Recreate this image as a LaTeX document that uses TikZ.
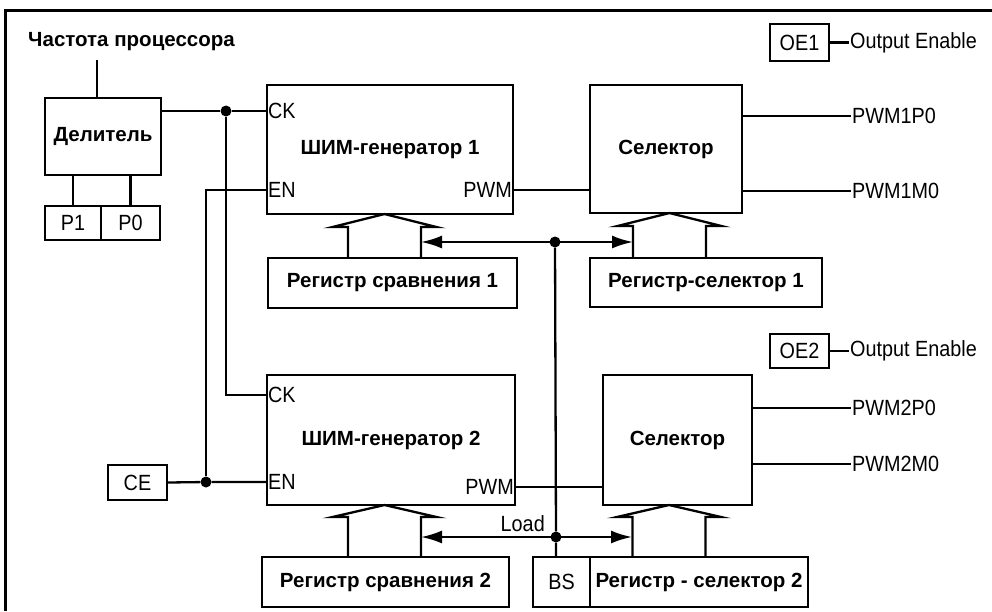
\documentclass[tikz,border=0pt]{standalone}
\usepackage{fontspec}
\newfontfamily\latfont[FakeStretch=0.9]{Liberation Sans}
\newfontfamily\rusfont{Liberation Sans}
\usetikzlibrary{arrows.meta, positioning}

% hollow bus arrow: centre x, apex y, barb y, foot y
\newcommand{\busarrow}[4]{%
\draw[wire] (#1-36.5,#4) -- (#1-36.5,#3) -- (#1-52,#3) -- (#1,#2)
  -- (#1+52,#3) -- (#1+36.5,#3) -- (#1+36.5,#4);
}

\begin{document}
\begin{tikzpicture}[x=1pt, y=-1pt,
  blk/.style={draw, line width=2.3pt, inner sep=0pt},
  wire/.style={line width=2.3pt},
  lat/.style={font=\latfont\fontsize{22}{26}\selectfont, inner sep=1pt},
  rus/.style={font=\rusfont\bfseries\fontsize{20.5}{24}\selectfont},
  jdot/.style={circle, fill, inner sep=0pt, minimum size=11pt},
  bustip/.style={{Latex[length=21pt,width=13pt]}-{Latex[length=21pt,width=13pt]}}
]
\useasboundingbox (0,0) rectangle (992,611);

% frame
\draw[line width=3pt] (992,10) -- (5,10) -- (5,611);

% divider
\node[rus, anchor=west, inner sep=0pt] (freq) at (28,42) {Частота процессора};
\node[blk, rus, minimum width=116pt, minimum height=77pt] (div) at (103,136.5) {Делитель};
\node[blk, lat, minimum width=56pt, minimum height=34pt] (p1) at (73,223) {P1};
\node[blk, lat, minimum width=59pt, minimum height=34pt] (p0) at (130.5,223) {P0};
\coordinate (fin) at (97,60);
\draw[wire] (fin) -- (fin |- div.north);
\draw[wire] (p1.north) -- (p1.north |- div.south);
\draw[wire] (p0.north) -- (p0.north |- div.south);

% generators
\node[blk, rus, minimum width=246pt, minimum height=129pt] (gen1) at (390,149.5) {ШИМ-генератор 1};
\node[blk, rus, minimum width=248pt, minimum height=130pt] (gen2) at (391,440) {ШИМ-генератор 2};
\coordinate (g1ck) at (267,111);
\coordinate (g1en) at (267,190);
\coordinate (g1pwm) at (513,190);
\coordinate (g2ck) at (267,395);
\coordinate (g2en) at (267,482);
\coordinate (g2pwm) at (515,487);
\node[lat, anchor=west] (g1cklbl) at (g1ck) {CK};
\node[lat, anchor=west] (g1enlbl) at (g1en) {EN};
\node[lat, anchor=east] (g1pwmlbl) at (g1pwm) {PWM};
\node[lat, anchor=west] (g2cklbl) at (g2ck) {CK};
\node[lat, anchor=west] (g2enlbl) at (g2en) {EN};
\node[lat, anchor=east] (g2pwmlbl) at (g2pwm) {PWM};

% selectors
\node[blk, rus, minimum width=152pt, minimum height=128pt] (sel1) at (666,149) {Селектор};
\node[blk, rus, minimum width=149pt, minimum height=130pt] (sel2) at (677.5,440) {Селектор};

% registers
\node[blk, rus, minimum width=249pt, minimum height=50pt] (reg1) at (392.5,283) {Регистр сравнения 1};
\node[blk, rus, minimum width=232pt, minimum height=49pt] (rsel1) at (706,282.5) {Регистр-селектор 1};
\node[blk, rus, minimum width=247pt, minimum height=50pt] (reg2) at (385.5,582) {Регистр сравнения 2};
\node[blk, lat, minimum width=57pt, minimum height=50pt] (bs) at (561.5,582) {BS};
\node[blk, rus, minimum width=218pt, minimum height=50pt] (rsel2) at (699,582) {Регистр - селектор 2};

% enables
\node[blk, lat, minimum width=59pt, minimum height=35pt] (ce) at (137.5,482.5) {CE};
\node[blk, lat, minimum width=59pt, minimum height=37pt] (oe1) at (799.5,42.5) {OE1};
\node[blk, lat, minimum width=59pt, minimum height=34pt] (oe2) at (799.5,351) {OE2};
\node[lat, anchor=west] (oe1lbl) at (849,42.5) {Output Enable};
\node[lat, anchor=west] (oe2lbl) at (849,351) {Output Enable};
\draw[wire] (oe1) -- (oe1lbl);
\draw[wire] (oe2) -- (oe2lbl);

% outputs
\node[lat, anchor=west] (o1p) at (851,116) {PWM1P0};
\node[lat, anchor=west] (o1m) at (851,191) {PWM1M0};
\node[lat, anchor=west] (o2p) at (851,408) {PWM2P0};
\node[lat, anchor=west] (o2m) at (851,464) {PWM2M0};
\foreach \o/\s in {o1p/sel1, o1m/sel1, o2p/sel2, o2m/sel2}
  \draw[wire] (\o.west -| \s.east) -- (\o.west);

% clock and enable wiring
\node[jdot] (jck) at (226,111) {};
\node[jdot] (jen) at (206,482) {};
\draw[wire] (jck -| div.east) -- (jck) -- (g1ck);
\draw[wire] (jck) |- (g2ck);
\draw[wire] (g1en) -| (jen);
\draw[wire] (ce.east) -- (jen) -- (g2en);
\draw[wire] (g1pwm) -- (g1pwm -| sel1.west);
\draw[wire] (g2pwm) -- (g2pwm -| sel2.west);

% data buses
\busarrow{384.5}{214}{227}{258}
\busarrow{669.5}{213}{226}{258}
\busarrow{384.5}{505}{517}{557}
\busarrow{669}{505}{517}{557}

% load lines
\coordinate (bt1) at (421,242);
\coordinate (bt2) at (633,242);
\coordinate (bb1) at (421,537);
\coordinate (bb2) at (632,537);
\draw[wire, bustip] (bt1) -- (bt2);
\draw[wire, bustip] (bb1) -- (bb2);
\node[jdot] (jbt) at (555,242) {};
\node[jdot] (jbb) at (556,537) {};
\draw[wire] (jbt) -- (jbb) -- (bs.north -| jbb);
\node[lat, inner sep=0pt, above left=1pt and 7pt of jbb] (load) {Load};
\end{tikzpicture}
\end{document}
